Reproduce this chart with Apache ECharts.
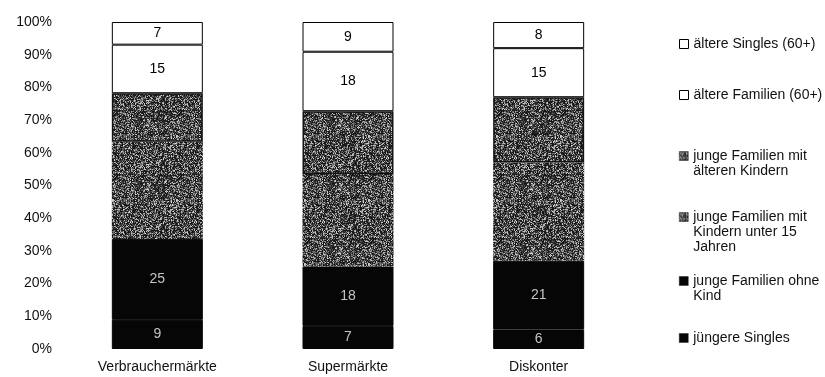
<!DOCTYPE html>
<html>
<head>
<meta charset="utf-8">
<script src="https://cdn.jsdelivr.net/npm/echarts@6/dist/echarts.min.js"></script>
<style>
  html, body { margin: 0; padding: 0; background: #fff; }
  #chart { width: 825px; height: 377px; }
</style>
</head>
<body>
<div id="chart"></div>
<script>
// Store types (x axis)
const categories = ['Verbrauchermärkte', 'Supermärkte', 'Diskonter'];

// Customer groups, bottom to top of each column (values in %)
const juengereSingles     = [9, 7, 6];
const familienOhneKind    = [25, 18, 21];
const familienKinderU15   = [30, 28, 30];
const familienAeltereKind = [15, 19, 20];
const aeltereFamilien     = [15, 18, 15];
const aeltereSingles      = [7, 9, 8];

const yTickLabels = ['0%', '10%', '20%', '30%', '40%', '50%', '60%', '70%', '80%', '90%', '100%'];

const groups = [
  { name: 'jüngere Singles', values: juengereSingles, kind: 'dark' },
  { name: 'junge Familien ohne\nKind', values: familienOhneKind, kind: 'dark' },
  { name: 'junge Familien mit\nKindern unter 15\nJahren', values: familienKinderU15, kind: 'grey' },
  { name: 'junge Familien mit\nälteren Kindern', values: familienAeltereKind, kind: 'grey', split: true },
  { name: 'ältere Familien (60+)', values: aeltereFamilien, kind: 'white' },
  { name: 'ältere Singles (60+)', values: aeltereSingles, kind: 'white' }
];

// Column totals, used to turn each column into a 100 % stack
const totals = categories.map((_, i) => groups.reduce((s, g) => s + g.values[i], 0));

// Grainy grey fill for the middle segments
function makeGrain() {
  const c = document.createElement('canvas');
  c.width = 64; c.height = 64;
  const ctx = c.getContext('2d');
  const img = ctx.createImageData(64, 64);
  let seed = 1234567;
  for (let p = 0; p < 64 * 64; p++) {
    seed = (seed * 1103515245 + 12345) & 0x7fffffff;
    const r = seed / 0x7fffffff;
    const g = Math.round(18 + 200 * Math.pow(r, 2.1));
    img.data[p * 4] = g; img.data[p * 4 + 1] = g; img.data[p * 4 + 2] = g; img.data[p * 4 + 3] = 255;
  }
  ctx.putImageData(img, 0, 0);
  return c;
}
const grain = makeGrain();

const FONT = '"Liberation Sans", Arial, sans-serif';

function styleFor(g) {
  if (g.kind === 'dark') {
    return { itemStyle: { color: '#060606', borderColor: '#060606', borderWidth: 1 }, labelColor: '#c4c4c4' };
  }
  if (g.kind === 'grey') {
    return {
      itemStyle: { color: { image: grain, repeat: 'repeat' },
                   borderColor: '#141414', borderWidth: g.split ? 1.5 : 0 },
      labelColor: '#1c1c1c'
    };
  }
  return { itemStyle: { color: '#ffffff', borderColor: '#000', borderWidth: 1 }, labelColor: '#000' };
}

const series = groups.map(g => {
  const st = styleFor(g);
  return {
    name: g.name,
    type: 'bar',
    stack: 'share',
    barWidth: 91,
    data: g.values.map((v, i) => v / totals[i] * 100),
    itemStyle: st.itemStyle,
    label: {
      show: true,
      position: 'inside',
      color: st.labelColor,
      fontFamily: FONT,
      fontSize: 14,
      formatter: p => String(g.values[p.dataIndex])
    },
    emphasis: { disabled: true }
  };
});

// Legend: one block per group, listed top to bottom from the top of the stack.
// Blank lines are prepended so the marker sits level with the first text line.
const LH = 15;
const legendFirstLine = [44, 95, 156, 217, 281, 338];
const legendOrder = groups.slice().reverse();
const legends = legendOrder.map((g, k) => {
  const n = g.name.split('\n').length;
  return {
    data: [g.name],
    orient: 'vertical',
    left: 679,
    top: legendFirstLine[k] - (2 * n - 1) * LH / 2,
    padding: 0,
    itemWidth: 9,
    itemHeight: 9,
    selectedMode: false,
    icon: 'rect',
    formatter: name => '\n'.repeat(n - 1) + name,
    itemStyle: g.kind === 'white' ? { borderColor: '#000', borderWidth: 1 } : { borderColor: '#222', borderWidth: 0.5 },
    textStyle: {
      fontFamily: FONT,
      fontSize: 14,
      color: '#111',
      lineHeight: LH
    }
  };
});

const chart = echarts.init(document.getElementById('chart'), null, { renderer: 'canvas' });
chart.setOption({
  animation: false,
  backgroundColor: '#fff',
  grid: { left: 62, right: 191, top: 22, bottom: 28, containLabel: false },
  legend: legends,
  xAxis: {
    type: 'category',
    data: categories,
    axisLine: { show: false },
    axisTick: { show: false },
    axisLabel: { margin: 11, color: '#111', fontFamily: FONT, fontSize: 14 }
  },
  yAxis: {
    type: 'value',
    min: 0,
    max: 100,
    interval: 10,
    splitLine: { show: false },
    axisLine: { show: false },
    axisTick: { show: false },
    axisLabel: {
      margin: 10,
      color: '#111',
      fontFamily: FONT,
      fontSize: 14,
      formatter: v => yTickLabels[Math.round(v / 10)]
    }
  },
  series: series
});
</script>
</body>
</html>
